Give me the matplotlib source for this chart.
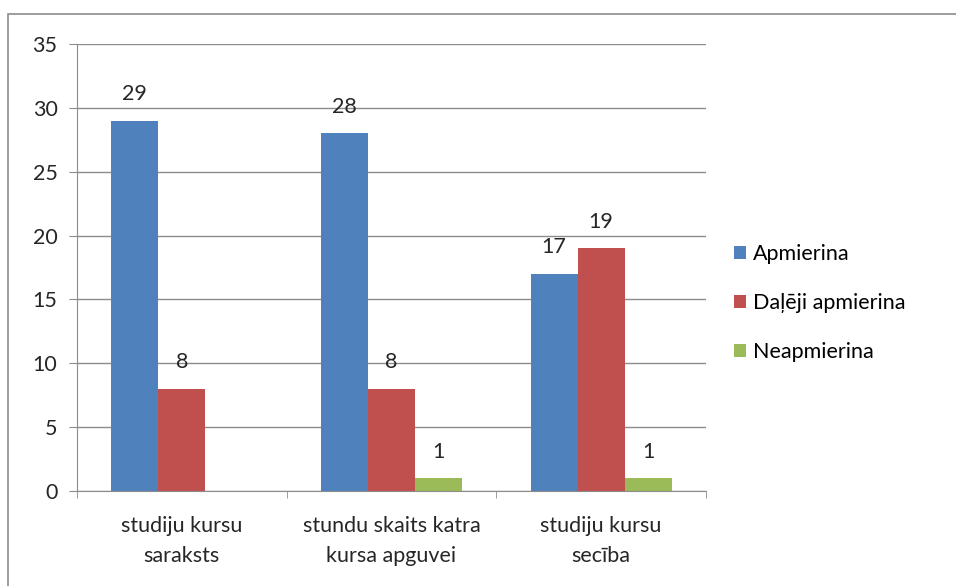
import matplotlib.pyplot as plt
import numpy as np
from matplotlib.patches import Rectangle

# ── Data ──
categories = ["studiju kursu\nsaraksts", "stundu skaits katra\nkursa apguvei", "studiju kursu\nsecība"]
series_names = ["Apmierina", "Daļēji apmierina", "Neapmierina"]
apmierina = [29, 28, 17]
dalejii = [8, 8, 19]
neapmierina = [0, 1, 1]
colors = ["#4F81BD", "#C0504D", "#9BBB59"]

plt.rcParams["font.family"] = ["Lato", "DejaVu Sans"]
fs = 15.5
txt = "#262626"

fig = plt.figure(figsize=(9.56, 5.86), dpi=100)
ax = fig.add_axes([0.0805, 0.162, 0.658, 0.763])

# outer chart frame
fig.patches.append(Rectangle((8 / 956, -0.01), 1.0, 1 - 14 / 586 + 0.01,
                             transform=fig.transFigure, fill=False,
                             edgecolor="#8c8c8c", linewidth=1.2))

x = np.arange(len(categories))
w = 0.224
for i, (vals, name, c) in enumerate(zip([apmierina, dalejii, neapmierina], series_names, colors)):
    pos = x + (i - 1) * w
    ax.bar(pos, vals, width=w, color=c, label=name)
    for p, v in zip(pos, vals):
        if v > 0:
            ax.text(p, v + 1.3, str(v), ha="center", va="bottom", fontsize=fs, color=txt)

ax.set_xlim(-0.5, 2.5)
ax.set_ylim(0, 35)
ax.set_yticks(range(0, 36, 5))
ax.yaxis.grid(True, color="#8c8c8c", linewidth=1)
ax.set_axisbelow(True)
ax.set_xticks(x)
ax.set_xticklabels(categories, fontsize=fs, color=txt, linespacing=1.6)
ax.set_xticks([-0.5, 0.5, 1.5, 2.5], minor=True)
ax.tick_params(axis="x", which="major", length=0, pad=18)
ax.tick_params(axis="x", which="minor", length=5, color="#8c8c8c")
ax.tick_params(axis="y", length=6, color="#8c8c8c", labelsize=fs, labelcolor=txt, pad=8)
for s in ["top", "right"]:
    ax.spines[s].set_visible(False)
ax.spines["left"].set_color("#8c8c8c")
ax.spines["bottom"].set_color("#8c8c8c")

fig.legend(loc="center left", bbox_to_anchor=(0.748, 0.483), frameon=False,
           fontsize=fs, handlelength=0.55, handleheight=0.55, handletextpad=0.3,
           labelspacing=1.35)

plt.savefig("out.png", dpi=100)
